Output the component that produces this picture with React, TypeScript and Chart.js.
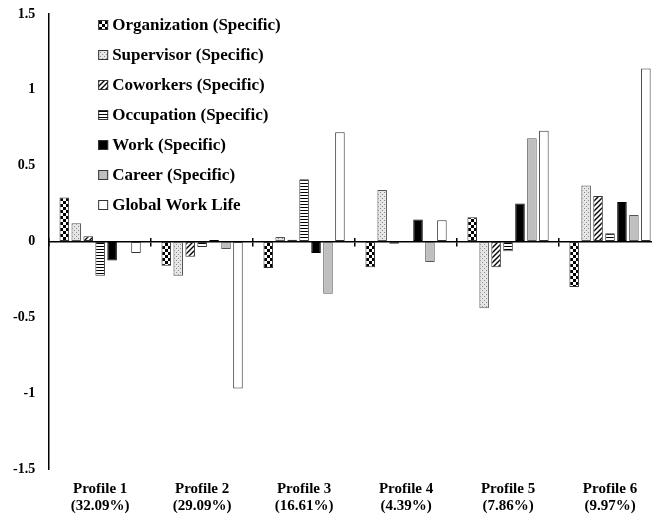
import React, { useEffect, useRef } from 'react';
import { Chart, registerables } from 'chart.js';

Chart.register(...registerables);

const categories: string[][] = [
  ['Profile 1', '(32.09%)'],
  ['Profile 2', '(29.09%)'],
  ['Profile 3', '(16.61%)'],
  ['Profile 4', '(4.39%)'],
  ['Profile 5', '(7.86%)'],
  ['Profile 6', '(9.97%)'],
];

const seriesLabels = [
  'Organization (Specific)',
  'Supervisor (Specific)',
  'Coworkers (Specific)',
  'Occupation (Specific)',
  'Work (Specific)',
  'Career (Specific)',
  'Global Work Life',
];

const organization = [0.29, -0.16, -0.175, -0.17, 0.16, -0.3];
const supervisor = [0.12, -0.225, 0.03, 0.34, -0.44, 0.37];
const coworkers = [0.035, -0.1, 0.012, -0.015, -0.17, 0.3];
const occupation = [-0.225, -0.037, 0.41, 0, -0.065, 0.055];
const work = [-0.125, 0.01, -0.075, 0.145, 0.25, 0.26];
const career = [0, -0.05, -0.345, -0.135, 0.68, 0.175];
const globalWorkLife = [-0.075, -0.97, 0.72, 0.14, 0.73, 1.14];

const yTickLabels = ['-1.5', '-1', '-0.5', '0', '0.5', '1', '1.5'];
const yMin = -1.5;
const yMax = 1.5;
const yStep = 0.5;

const FONT = '"Liberation Serif", "Times New Roman", serif';

function makePattern(w: number, h: number, draw: (g: CanvasRenderingContext2D) => void) {
  const c = document.createElement('canvas');
  c.width = w;
  c.height = h;
  const g = c.getContext('2d') as CanvasRenderingContext2D;
  draw(g);
  return g.createPattern(c, 'repeat') as CanvasPattern;
}

const legendPlugin = {
  id: 'boxLegend',
  afterDraw(chart: any) {
    const ctx = chart.ctx as CanvasRenderingContext2D;
    const area = chart.chartArea;
    const x0 = area.left + 49;
    const y0 = area.top + 11;
    const gap = 30;
    const box = 10;
    ctx.save();
    ctx.font = `bold 17px ${FONT}`;
    ctx.textBaseline = 'middle';
    ctx.textAlign = 'left';
    chart.data.datasets.forEach((ds: any, i: number) => {
      const cy = y0 + i * gap;
      ctx.fillStyle = ds.backgroundColor;
      ctx.fillRect(x0, cy - box / 2, box, box);
      ctx.strokeStyle = '#333';
      ctx.lineWidth = 1;
      ctx.strokeRect(x0 + 0.5, cy - box / 2 + 0.5, box - 1, box - 1);
      ctx.fillStyle = '#000';
      ctx.fillText(ds.label, x0 + box + 4, cy + 1);
    });
    ctx.restore();
  },
};

export default function App() {
  const ref = useRef<HTMLCanvasElement | null>(null);

  useEffect(() => {
    if (!ref.current) return;

    const checker = makePattern(6, 6, (g) => {
      g.fillStyle = '#fff';
      g.fillRect(0, 0, 6, 6);
      g.fillStyle = '#000';
      g.fillRect(0, 0, 3, 3);
      g.fillRect(3, 3, 3, 3);
    });
    const stipple = makePattern(4, 4, (g) => {
      g.fillStyle = '#e6e6e6';
      g.fillRect(0, 0, 4, 4);
      g.fillStyle = '#888888';
      g.fillRect(0, 0, 1, 1);
      g.fillRect(2, 2, 1, 1);
    });
    const diagonal = makePattern(5, 5, (g) => {
      g.fillStyle = '#fff';
      g.fillRect(0, 0, 5, 5);
      g.strokeStyle = '#000';
      g.lineWidth = 1.4;
      g.beginPath();
      g.moveTo(-1, 6);
      g.lineTo(6, -1);
      g.moveTo(-1, 1);
      g.lineTo(1, -1);
      g.moveTo(4, 6);
      g.lineTo(6, 4);
      g.stroke();
    });
    const horizontal = makePattern(4, 3, (g) => {
      g.fillStyle = '#fff';
      g.fillRect(0, 0, 4, 3);
      g.fillStyle = '#000';
      g.fillRect(0, 0, 4, 1);
    });

    const seriesValues = [organization, supervisor, coworkers, occupation, work, career, globalWorkLife];
    const fills: any[] = [checker, stipple, diagonal, horizontal, '#000000', '#bfbfbf', '#ffffff'];
    const borders = ['#333', '#555', '#333', '#333', '#000', '#555', '#333'];

    const datasets = seriesValues.map((vals, i) => ({
      label: seriesLabels[i],
      data: vals,
      backgroundColor: fills[i],
      borderColor: borders[i],
      borderWidth: 1,
      borderSkipped: false as const,
      categoryPercentage: 0.82,
      barPercentage: 0.8,
    }));

    const tickFont = { family: FONT, size: 14, weight: 'bold' as const };
    const clear = 'rgba(0,0,0,0)';

    const chart = new Chart(ref.current, {
      type: 'bar',
      data: { labels: categories, datasets },
      plugins: [legendPlugin],
      options: {
        responsive: true,
        maintainAspectRatio: false,
        animation: false,
        layout: { padding: { top: 14, left: 13, right: 1, bottom: 1.5 } },
        plugins: {
          legend: { display: false },
          tooltip: { enabled: false },
          title: { display: false },
        },
        scales: {
          x: {
            type: 'category',
            offset: true,
            grid: { display: true, drawOnChartArea: false, drawTicks: true, tickLength: 11, color: clear },
            border: { display: false },
            ticks: {
              color: '#000',
              font: { family: FONT, size: 15, weight: 'bold', lineHeight: 1.15 },
              padding: 0,
              maxRotation: 0,
              autoSkip: false,
            },
          },
          x2: {
            type: 'category',
            position: { y: 0 },
            offset: true,
            grid: { display: true, offset: true, drawOnChartArea: false, drawTicks: true, tickLength: 4, color: '#000', lineWidth: 1.5 },
            border: { display: true, color: '#000', width: 1.5 },
            ticks: { display: false },
          },
          x3: {
            type: 'category',
            position: { y: 0 },
            offset: true,
            grid: { display: true, offset: true, drawOnChartArea: false, drawTicks: true, tickLength: -4, color: '#000', lineWidth: 1.5 },
            border: { display: false },
            ticks: { display: false },
          },
          y: {
            type: 'linear',
            min: yMin,
            max: yMax,
            grid: { display: true, drawOnChartArea: false, drawTicks: true, tickLength: 14, color: clear },
            border: { display: true, color: '#000', width: 1.5 },
            ticks: {
              stepSize: yStep,
              color: '#000',
              font: tickFont,
              padding: 0,
              callback: (v: any) => yTickLabels[Math.round((Number(v) - yMin) / yStep)],
            },
          },
        },
      } as any,
    });

    return () => chart.destroy();
  }, []);

  return (
    <div style={{ position: 'fixed', left: 0, top: 0, width: 662, height: 516, background: '#fff' }}>
      <canvas ref={ref} />
    </div>
  );
}
